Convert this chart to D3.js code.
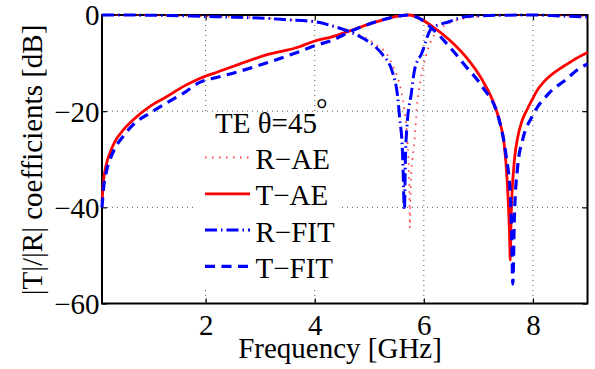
<!DOCTYPE html>
<html lang="en">
<head>
    <meta charset="utf-8">
    <title>TE 45 deg coefficients</title>
    <script src='https://d3js.org/d3.v7.min.js'></script>
    <style>
        body { margin: 0; background: #fff; }
    </style>
</head>
<body>
    <script>
        var width = 595, height = 369;
        var margin = {left: 102, top: 15, right: 7.5, bottom: 65.5};
        var w = width - margin.left - margin.right, h = height - margin.top - margin.bottom;
        var serif = "'Liberation Serif'";
        var fs = 29;

        // axis ticks
        var xTicks = [2, 4, 6, 8];
        var yTicks = [0, -20, -40, -60];

        // R-AE (reflection, analytic)
        var rAeFreq = [0.1, 1, 2, 2.5, 3.1, 3.5, 4.0, 4.33, 4.64, 4.94, 5.1, 5.31, 5.45, 5.55, 5.64, 5.7, 5.73, 5.745, 5.76, 5.79, 5.825, 5.87, 5.94, 6.05, 6.2, 6.45, 6.8, 7.2, 8, 8.5, 9];
        var rAeDb   = [0, -0.05, -0.25, -0.4, -0.65, -0.95, -1.3, -2.2, -3.3, -4.8, -6.0, -8.0, -11.0, -14.2, -19.5, -26.6, -34, -44.3, -35, -30, -26.6, -19.5, -13.5, -8.0, -4.0, -1.8, -0.6, -0.2, 0, -0.1, -0.3];

        // T-AE (transmission, analytic)
        var tAeFreq = [0.1, 0.124, 0.186, 0.246, 0.338, 0.49, 0.672, 0.978, 1.283, 1.587, 1.89, 2.23, 2.5, 3.11, 3.72, 4.0, 4.33, 4.64, 4.94, 5.25, 5.55, 5.73, 5.9, 6.16, 6.47, 6.77, 7.07, 7.32, 7.41, 7.47, 7.53, 7.57, 7.585, 7.6, 7.65, 7.72, 7.8, 7.9, 7.99, 8.1, 8.2, 8.29, 8.45, 8.6, 8.8, 9.0];
        var tAeDb   = [-38.8, -35, -30.8, -28.7, -26.3, -23.9, -21.8, -19.0, -17.0, -14.9, -13.2, -11.8, -10.7, -8.3, -6.6, -5.4, -4.5, -3.3, -2.1, -1.0, -0.2, 0, -0.6, -2.4, -5.2, -8.7, -13.5, -19.5, -23, -26.6, -34.9, -45.3, -51, -42, -31.5, -25.5, -22, -19.5, -17.5, -15.3, -13.9, -12.9, -11.5, -10.4, -9.0, -7.8];

        // R-FIT
        var rFitFreq = [0.1, 1, 2, 2.5, 3.1, 3.5, 4.0, 4.33, 4.64, 4.94, 5.1, 5.24, 5.43, 5.52, 5.56, 5.6, 5.62, 5.635, 5.645, 5.66, 5.69, 5.77, 5.83, 5.96, 6.14, 6.46, 6.77, 7.2, 8, 8.5, 9];
        var rFitDb   = [0, -0.05, -0.3, -0.45, -0.7, -1.0, -1.4, -2.3, -3.5, -5.2, -6.5, -8.2, -12.1, -17.0, -21.8, -26.6, -32.2, -39.1, -40.5, -31, -23.2, -16.3, -11.4, -8, -2.8, -1.4, -0.35, -0.1, 0, -0.2, -0.4];

        // T-FIT
        var tFitFreq = [0.1, 0.124, 0.186, 0.246, 0.338, 0.49, 0.672, 0.978, 1.28, 1.59, 1.89, 2.2, 2.5, 3.11, 3.72, 4.0, 4.33, 4.64, 4.94, 5.25, 5.55, 5.72, 5.9, 6.16, 6.47, 6.77, 7.07, 7.38, 7.5, 7.59, 7.615, 7.63, 7.66, 7.72, 7.81, 7.99, 8.29, 8.6, 8.85, 9.0];
        var tFitDb   = [-40, -36.5, -32.3, -30.1, -27.7, -25.2, -22.8, -20.4, -18.3, -16.3, -14, -13, -12.1, -10.0, -7.6, -6.4, -5.2, -3.5, -2.1, -1.0, -0.2, 0, -0.6, -2.9, -6.6, -10.7, -14.9, -21.8, -28.7, -38.4, -48, -56, -41.9, -31.5, -26, -21, -16.3, -13.5, -11.1, -10.2];

        var series = [
            {name: 'R\u2212AE', f: rAeFreq, v: rAeDb, color: '#ff0000', width: 1.8, dash: '1.5,5.5', opacity: 0.75},
            {name: 'T\u2212AE', f: tAeFreq, v: tAeDb, color: '#ff0000', width: 2.8, dash: null, opacity: 1},
            {name: 'R\u2212FIT', f: rFitFreq, v: rFitDb, color: '#0000ff', width: 3, dash: '12,4,1.5,4', opacity: 1},
            {name: 'T\u2212FIT', f: tFitFreq, v: tFitDb, color: '#0000ff', width: 3.2, dash: '10,6.5', opacity: 1}
        ];

        var svg = d3.select('body')
            .append('svg')
            .attr('width', width)
            .attr('height', height);

        svg.append('rect').attr('width', width).attr('height', height).attr('fill', '#fff');

        var g = svg.append('g').attr('transform', 'translate(' + margin.left + ',' + margin.top + ')');

        var x = d3.scaleLinear().domain([0.1, 9]).range([0, w]);
        var y = d3.scaleLinear().domain([-60, 0]).range([h, 0]);

        // dotted grid
        g.selectAll('.gx').data(xTicks).join('line')
            .attr('x1', d => x(d)).attr('x2', d => x(d))
            .attr('y1', 0).attr('y2', h)
            .attr('stroke', '#444').attr('stroke-width', 0.9).attr('stroke-dasharray', '1,4');
        g.selectAll('.gy').data([-20, -40]).join('line')
            .attr('x1', 0).attr('x2', w)
            .attr('y1', d => y(d)).attr('y2', d => y(d))
            .attr('stroke', '#444').attr('stroke-width', 0.9).attr('stroke-dasharray', '1,4');

        // axes (inward ticks, mirrored on top/right)
        var xb = g.append('g').attr('transform', 'translate(0,' + h + ')')
            .call(d3.axisBottom(x).tickValues(xTicks).tickSize(-5).tickSizeOuter(0));
        var xt = g.append('g')
            .call(d3.axisTop(x).tickValues(xTicks).tickSize(-5).tickSizeOuter(0).tickFormat(''));
        var yl = g.append('g')
            .call(d3.axisLeft(y).tickValues(yTicks).tickSize(-5).tickSizeOuter(0));
        var yr = g.append('g').attr('transform', 'translate(' + w + ',0)')
            .call(d3.axisRight(y).tickValues(yTicks).tickSize(-5).tickSizeOuter(0).tickFormat(''));

        [xb, xt, yl, yr].forEach(function(a) {
            a.select('.domain').remove();
            a.selectAll('line').attr('stroke', '#000').attr('stroke-width', 1.2);
            a.attr('font-family', null).attr('font-size', null);
        });
        xb.selectAll('text').attr('y', 31.5).attr('dy', null)
            .style('font-family', serif).attr('font-size', fs).attr('fill', '#000');
        yl.selectAll('text').attr('x', -2.5).attr('dy', '0.34em')
            .style('font-family', serif).attr('font-size', fs).attr('fill', '#000');

        g.append('rect').attr('width', w).attr('height', h)
            .attr('fill', 'none').attr('stroke', '#000').attr('stroke-width', 2);

        // curves
        var line = d3.line()
            .x(d => x(d[0]))
            .y(d => y(d[1]))
            .curve(d3.curveMonotoneX);

        g.selectAll('.curve').data(series).join('path')
            .attr('d', s => line(s.f.map((f, i) => [f, s.v[i]])))
            .attr('fill', 'none')
            .attr('stroke', s => s.color)
            .attr('stroke-width', s => s.width)
            .attr('stroke-dasharray', s => s.dash)
            .attr('stroke-opacity', s => s.opacity);

        // axis labels
        svg.append('text').attr('x', 340).attr('y', 358)
            .attr('text-anchor', 'middle').attr('font-size', fs)
            .style('font-family', serif)
            .text('Frequency [GHz]');
        svg.append('text').attr('transform', 'translate(42,160) rotate(-90)')
            .attr('text-anchor', 'middle').attr('font-size', fs)
            .style('font-family', serif)
            .text('|T|/|R| coefficients [dB]');

        // legend
        var leg = svg.append('g');
        leg.append('rect').attr('x', 197).attr('y', 113).attr('width', 144).attr('height', 177).attr('fill', '#fff');
        leg.append('text').attr('x', 215).attr('y', 133).attr('font-size', fs)
            .style('font-family', serif).text('TE \u03b8=45');
        svg.append('text').attr('x', 316).attr('y', 119).attr('font-size', fs)
            .style('font-family', serif).text('\u00b0');

        var rows = leg.selectAll('.row').data(series).join('g')
            .attr('transform', (d, i) => 'translate(0,' + (157.5 + i * 36.3) + ')');
        rows.append('line')
            .attr('x1', 205).attr('x2', 250).attr('y1', 0).attr('y2', 0)
            .attr('stroke', s => s.color)
            .attr('stroke-width', s => s.width)
            .attr('stroke-dasharray', s => s.dash)
            .attr('stroke-opacity', s => s.opacity);
        rows.append('text').attr('x', 255.5).attr('y', 11.5).attr('font-size', fs)
            .style('font-family', serif)
            .text(s => s.name);
    </script>
</body>
</html>
